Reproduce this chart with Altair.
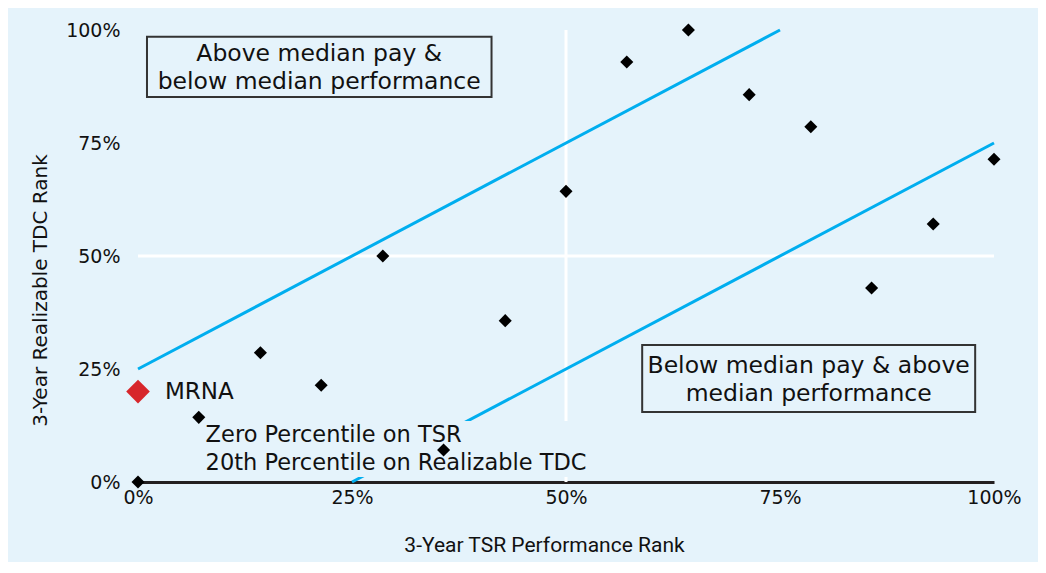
import altair as alt
import pandas as pd

# Peer data (TSR rank vs realizable TDC rank)
tsr_rank = [0.0, 0.071, 0.143, 0.214, 0.286, 0.357, 0.429, 0.5, 0.571, 0.643, 0.714, 0.786, 0.857, 0.929, 1.0]
tdc_rank = [0.0, 0.143, 0.286, 0.214, 0.5, 0.071, 0.357, 0.643, 0.929, 1.0, 0.857, 0.786, 0.429, 0.571, 0.714]

company = ["MRNA"]
company_tsr = [0.0]
company_tdc = [0.2]

# Alignment band lines
upper_x = [0.0, 0.75]
upper_y = [0.25, 1.0]
lower_x = [0.25, 1.0]
lower_y = [0.0, 0.75]

tick_values = [0.0, 0.25, 0.5, 0.75, 1.0]

BG = "#e5f3fb"
BLUE = "#00aeef"
FONT = "DejaVu Sans"

peers = pd.DataFrame({"x": tsr_rank, "y": tdc_rank})
mrna = pd.DataFrame({"x": company_tsr, "y": company_tdc, "label": company})
upper = pd.DataFrame({"x": upper_x, "y": upper_y})
lower = pd.DataFrame({"x": lower_x, "y": lower_y})

xs = alt.Scale(domain=[0, 1], nice=False, zero=False)
ys = alt.Scale(domain=[0, 1], nice=False, zero=False)

xaxis = alt.Axis(values=tick_values, format=".0%", title="3-Year TSR Performance Rank",
                 grid=False, ticks=False, domainColor="#231f20", domainWidth=3, labelFlush=False,
                 labelFont=FONT, labelFontSize=19, labelColor="#111", labelPadding=6,
                 titleFont="Roboto", titleFontSize=21, titleFontWeight="normal",
                 titleColor="#111", titleX=406, titleY=63, titleBaseline="middle", titleAlign="center")
yaxis = alt.Axis(values=tick_values, format=".0%", title="3-Year Realizable TDC Rank",
                 grid=False, ticks=False, domain=False,
                 labelFont=FONT, labelFontSize=19, labelColor="#111", labelPadding=18,
                 titleFont=FONT, titleFontSize=20, titleFontWeight="normal",
                 titleColor="#111", titleX=-98, titleY=260, titleBaseline="middle",
                 titleAlign="center", titleAngle=-90)

base_x = alt.X("x:Q", scale=xs, axis=xaxis)
base_y = alt.Y("y:Q", scale=ys, axis=yaxis)

# white median rules
hrule = alt.Chart(pd.DataFrame({"x": [0.0], "x2": [1.0], "y": [0.5]})).mark_rule(
    color="white", strokeWidth=3).encode(x=base_x, x2="x2:Q", y=base_y)
vrule = alt.Chart(pd.DataFrame({"x": [0.5], "y": [0.0], "y2": [1.0]})).mark_rule(
    color="white", strokeWidth=3).encode(x=base_x, y=base_y, y2="y2:Q")

up_line = alt.Chart(upper).mark_line(color=BLUE, strokeWidth=3).encode(x=base_x, y=base_y)
lo_line = alt.Chart(lower).mark_line(color=BLUE, strokeWidth=3).encode(x=base_x, y=base_y)

# annotation boxes
boxes = pd.DataFrame({
    "x": [0.0105, 0.589], "x2": [0.413, 0.978],
    "y": [0.985, 0.303], "y2": [0.852, 0.155],
})
box_layer = alt.Chart(boxes).mark_rect(fill=BG, stroke="#333333", strokeWidth=2).encode(
    x=base_x, x2="x2:Q", y=base_y, y2="y2:Q")

box_text = pd.DataFrame({
    "x": [0.2117, 0.7835],
    "y": [0.947, 0.256],
    "t": ["Above median pay &\nbelow median performance",
          "Below median pay & above\nmedian performance"],
})
box_text_layer = alt.Chart(box_text).mark_text(
    font=FONT, fontSize=23.5, color="#111", align="center", baseline="middle",
    lineBreak="\n", lineHeight=28).encode(x=base_x, y=base_y, text="t:N")

# mask behind the MRNA note
mask = alt.Chart(pd.DataFrame({"x": [0.072], "x2": [0.53], "y": [0.135], "y2": [0.011]})).mark_rect(
    fill=BG).encode(x=base_x, x2="x2:Q", y=base_y, y2="y2:Q")
note = alt.Chart(pd.DataFrame({"x": [0.079], "y": [0.104],
                               "t": ["Zero Percentile on TSR\n20th Percentile on Realizable TDC"]})).mark_text(
    font=FONT, fontSize=22.5, color="#111", align="left", baseline="middle",
    lineBreak="\n", lineHeight=28).encode(x=base_x, y=base_y, text="t:N")

pts = alt.Chart(peers).mark_point(shape="diamond", filled=True, color="black", size=170, opacity=1).encode(
    x=base_x, y=base_y)
mrna_pt = alt.Chart(mrna).mark_point(shape="diamond", filled=True, color="#d7262b", size=560, opacity=1).encode(
    x=base_x, y=base_y)
mrna_lbl = alt.Chart(mrna).mark_text(font=FONT, fontSize=23, color="#111", align="left",
                                     baseline="middle", dx=27).encode(x=base_x, y=base_y, text="label:N")

chart = alt.layer(hrule, vrule, up_line, lo_line, mask, note, box_layer, box_text_layer,
                  pts, mrna_pt, mrna_lbl).properties(
    width=856, height=452,
    autosize=alt.AutoSizeParams(type="none"),
    padding={"left": 130, "top": 22, "right": 44, "bottom": 80},
    background=BG,
).configure_view(stroke=None, fill=BG)

chart.save("out.html", embed_options={"renderer": "svg", "actions": False})
